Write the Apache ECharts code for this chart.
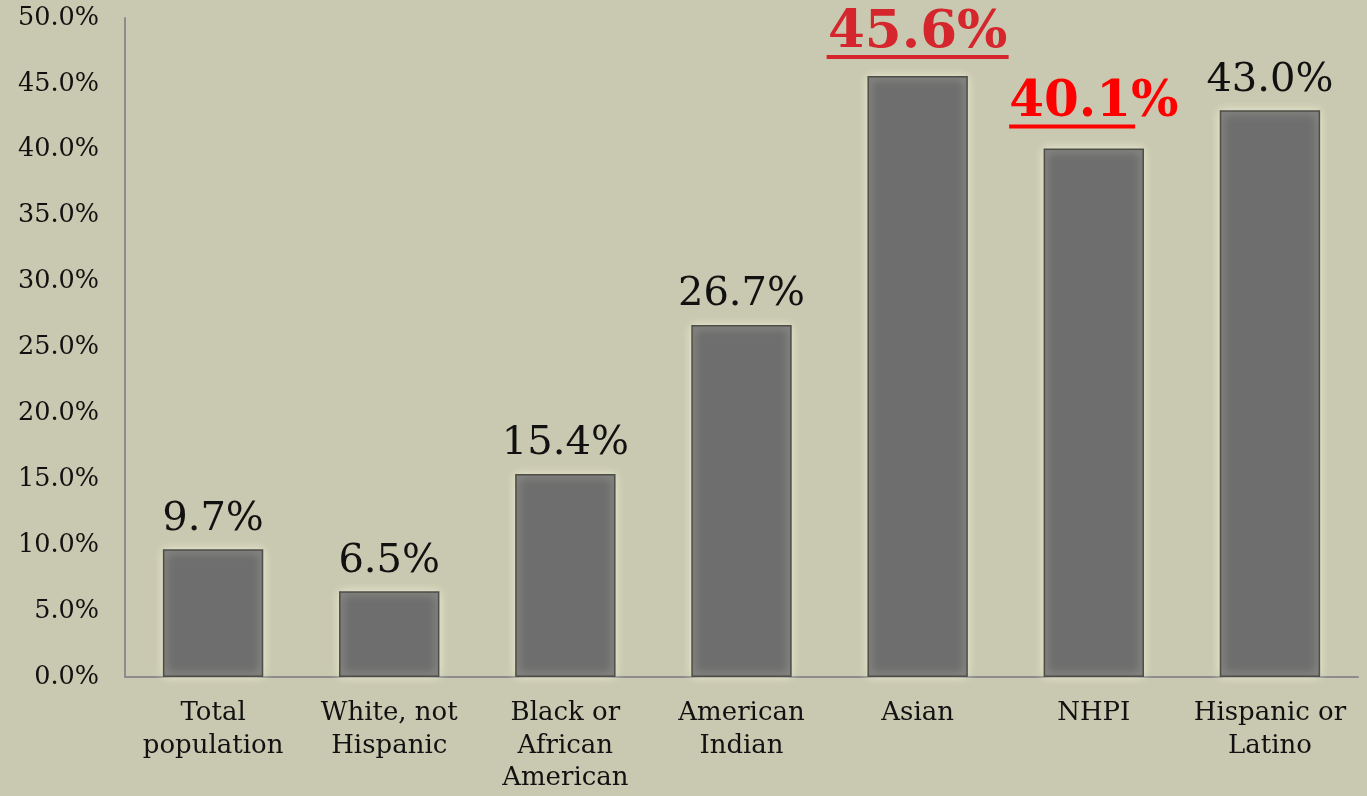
<!DOCTYPE html>
<html><head><meta charset="utf-8">
<script src="https://cdn.jsdelivr.net/npm/echarts@6/dist/echarts.min.js"></script>
<style>html,body{margin:0;padding:0;background:#c9c8b0;}#c{width:1367px;height:796px;}</style>
</head><body><div id="c"></div>
<script>
const categories = ['Total\npopulation', 'White, not\nHispanic', 'Black or\nAfrican\nAmerican', 'American\nIndian', 'Asian', 'NHPI', 'Hispanic or\nLatino'];
const values = [9.7, 6.5, 15.4, 26.7, 45.6, 40.1, 43.0];
const labelTexts = ['9.7%', '6.5%', '15.4%', '26.7%', '45.6%', '40.1%', '43.0%'];
const highlight = [null, null, null, null, 'a', 'b', null];

const serif = '"DejaVu Serif", "Liberation Serif", serif';
const chart = echarts.init(document.getElementById('c'));
const data = values.map((v, i) => {
  const item = { value: v };
  if (highlight[i] === 'a') {
    item.label = { formatter: '{a|' + labelTexts[i] + '}\n{ua|}', distance: 17 };
  } else if (highlight[i] === 'b') {
    item.label = { formatter: '{b|' + labelTexts[i] + '}\n{ub|}', distance: 20 };
  }
  return item;
});
chart.setOption({
  backgroundColor: '#c9c8b0',
  animation: false,
  grid: { left: 125, right: 9, top: 18, bottom: 119, containLabel: false },
  xAxis: {
    type: 'category', data: categories,
    axisLine: { lineStyle: { color: '#8c8c8c', width: 2 } },
    axisTick: { show: false },
    axisLabel: { color: '#111', fontFamily: serif, fontSize: 26, lineHeight: 32.5, margin: 20, interval: 0 }
  },
  yAxis: {
    type: 'value', min: 0, max: 50, interval: 5,
    splitLine: { show: false },
    axisLine: { show: true, lineStyle: { color: '#8c8c8c', width: 2 } },
    axisTick: { show: false },
    axisLabel: { color: '#111', fontFamily: serif, fontSize: 25.5, margin: 26, formatter: v => v.toFixed(1) + '%' }
  },
  series: [{
    type: 'bar', data: data, barWidth: '57%',
    itemStyle: { color: '#6e6e6e', borderColor: '#4e4e48', borderWidth: 1.5, shadowColor: 'rgba(240,240,215,0.9)', shadowBlur: 10 },
    label: {
      show: true, position: 'top', distance: 10, color: '#111', fontFamily: serif, fontSize: 40,
      formatter: p => labelTexts[p.dataIndex],
      rich: {
        a: { color: '#d4262c', fontFamily: serif, fontSize: 53, fontWeight: 'bold', lineHeight: 44 },
        ua: { backgroundColor: '#d4262c', width: 182, height: 4, lineHeight: 4 },
        b: { color: '#ff0000', fontFamily: serif, fontSize: 50, fontWeight: 'bold', lineHeight: 42 },
        ub: { backgroundColor: '#ff0000', width: 126, height: 4, lineHeight: 4, align: 'left' }
      }
    }
  }]
});
</script></body></html>
